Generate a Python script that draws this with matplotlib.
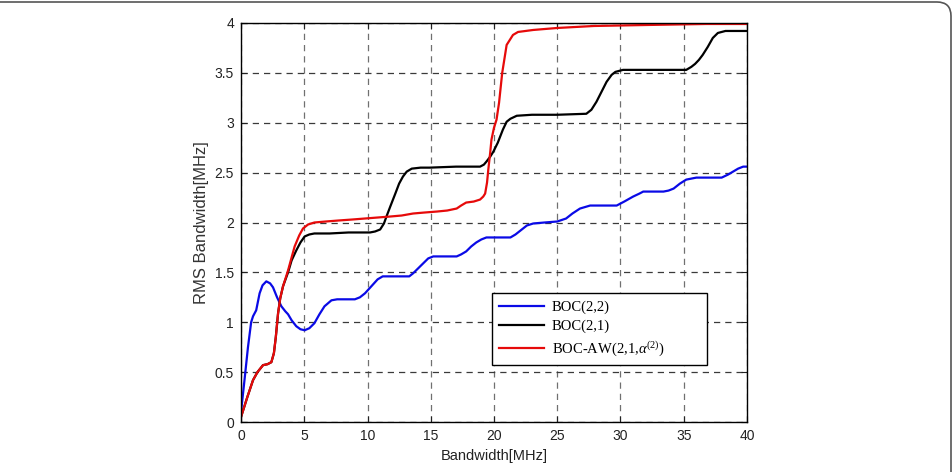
import matplotlib
matplotlib.use("Agg")
import matplotlib.pyplot as plt
from matplotlib.patches import FancyBboxPatch
from matplotlib.transforms import IdentityTransform

plt.rcParams['font.family'] = ['Liberation Sans', 'DejaVu Sans']
plt.rcParams['mathtext.fontset'] = 'custom'
plt.rcParams['mathtext.rm'] = 'Liberation Serif'
plt.rcParams['mathtext.it'] = 'Liberation Serif:italic'

# BOC(2,2)
x_boc22 = [0, 0.3, 0.55, 0.8, 0.95, 1.2, 1.47, 1.7, 2.0, 2.3, 2.53, 2.85, 3.19, 3.5, 3.72,
           4.0, 4.37, 4.7, 5.03, 5.4, 5.8, 6.2, 6.6, 7.15, 7.6, 8.3, 9.0, 9.4, 9.8, 10.3,
           10.8, 11.2, 12.0, 12.8, 13.3, 13.6, 14.0, 14.4, 14.8, 15.2, 16.2, 17.05, 17.4,
           17.8, 18.2, 18.6, 19.0, 19.4, 20.5, 21.3, 21.7, 22.1, 22.6, 23.1, 24.0, 25.0,
           25.7, 26.2, 26.8, 27.6, 28.5, 29.7, 30.3, 31.0, 31.5, 31.8, 33.4, 33.8, 34.2,
           34.7, 35.2, 36.0, 37.0, 38.0, 38.5, 38.9, 39.3, 39.7, 40]
y_boc22 = [0.1, 0.45, 0.75, 1.0, 1.06, 1.12, 1.29, 1.37, 1.41, 1.39, 1.35, 1.25, 1.16, 1.11, 1.08,
           1.02, 0.96, 0.93, 0.92, 0.94, 0.99, 1.08, 1.16, 1.22, 1.23, 1.23, 1.23, 1.25, 1.29, 1.36,
           1.43, 1.46, 1.46, 1.46, 1.46, 1.49, 1.54, 1.59, 1.64, 1.66, 1.66, 1.66, 1.68,
           1.71, 1.76, 1.80, 1.83, 1.85, 1.85, 1.85, 1.88, 1.92, 1.97, 1.99, 2.0, 2.01,
           2.04, 2.09, 2.14, 2.17, 2.17, 2.17, 2.21, 2.26, 2.29, 2.31, 2.31, 2.32, 2.34,
           2.39, 2.43, 2.45, 2.45, 2.45, 2.48, 2.51, 2.54, 2.56, 2.56]

# BOC(2,1)
x_boc21 = [0, 0.5, 0.95, 1.3, 1.74, 2.1, 2.4, 2.6, 2.75, 2.93, 3.1, 3.32, 3.72, 4.0, 4.37,
           4.7, 5.03, 5.4, 5.8, 7, 8.5, 10.2, 10.6, 11.0, 11.3, 11.5, 11.8, 12.2, 12.5, 12.8,
           13.1, 13.5, 14.2, 14.9, 17, 18.9, 19.2, 19.4, 19.7, 19.95, 20.3, 20.7, 21.0, 21.3,
           21.8, 23, 25, 27.3, 27.7, 28.1, 28.5, 28.9, 29.3, 29.6, 30.2, 32, 35.2, 35.6,
           35.9, 36.2, 36.5, 36.9, 37.3, 37.7, 38.3, 39, 40]
y_boc21 = [0.05, 0.25, 0.42, 0.5, 0.57, 0.58, 0.6, 0.69, 0.85, 1.09, 1.24, 1.36, 1.5, 1.62, 1.72,
           1.8, 1.86, 1.88, 1.89, 1.89, 1.9, 1.9, 1.91, 1.93, 1.99, 2.06, 2.16, 2.29, 2.39, 2.46,
           2.51, 2.54, 2.55, 2.55, 2.56, 2.56, 2.58, 2.61, 2.66, 2.71, 2.8, 2.93, 3.01, 3.04,
           3.07, 3.08, 3.08, 3.09, 3.13, 3.21, 3.31, 3.41, 3.48, 3.51, 3.53, 3.53, 3.53, 3.56,
           3.59, 3.63, 3.68, 3.76, 3.85, 3.9, 3.92, 3.92, 3.92]

# BOC-AW(2,1,alpha)
x_bocaw = [0, 0.5, 0.95, 1.3, 1.74, 2.1, 2.4, 2.6, 2.75, 2.93, 3.1, 3.32, 3.72, 4.0, 4.24,
           4.6, 4.9, 5.3, 5.8, 6.7, 7.7, 8.8, 9.8, 10.8, 11.8, 12.7, 13.6, 14.5, 15.5, 16.3,
           17.05, 17.4, 17.8, 18.4, 18.9, 19.15, 19.3, 19.45, 19.55, 19.7, 19.8, 20.0, 20.2,
           20.4, 20.65, 21.0, 21.5, 21.9, 23.1, 25, 27.9, 32.1, 36.8, 40]
y_bocaw = [0.05, 0.25, 0.42, 0.5, 0.57, 0.58, 0.6, 0.69, 0.85, 1.09, 1.24, 1.36, 1.52, 1.65, 1.76,
           1.87, 1.94, 1.98, 2.0, 2.01, 2.02, 2.03, 2.04, 2.05, 2.06, 2.07, 2.09, 2.1, 2.11, 2.12,
           2.14, 2.17, 2.2, 2.21, 2.23, 2.26, 2.29, 2.4, 2.53, 2.7, 2.83, 2.95, 3.03,
           3.2, 3.5, 3.78, 3.88, 3.91, 3.93, 3.95, 3.97, 3.98, 3.99, 3.99]

x_ticks = [0, 5, 10, 15, 20, 25, 30, 35, 40]
y_ticks = [0, 0.5, 1, 1.5, 2, 2.5, 3, 3.5, 4]

fig = plt.figure(figsize=(9.53, 4.72), dpi=100)
ax = fig.add_axes([0.2529, 0.1059, 0.5309, 0.8454])

ax.plot(x_boc22, y_boc22, color="#0a0ae6", linewidth=1.6, label="BOC(2,2)")
ax.plot(x_boc21, y_boc21, color="black", linewidth=1.6, label="BOC(2,1)")
ax.plot(x_bocaw, y_bocaw, color="#e60a0a", linewidth=1.6, label=r"BOC-AW(2,1,$\alpha^{(2)}$)")

ax.set_xlim(0, 40)
ax.set_ylim(0, 4)
ax.set_xticks(x_ticks)
ax.set_yticks(y_ticks)
ax.set_xticklabels([str(t) for t in x_ticks])
ax.set_yticklabels([f"{t:g}" for t in y_ticks])

# matlab style dashed grid
ax.xaxis.grid(True, linestyle=(0, (5, 4)), color="#707070", linewidth=0.9)
ax.yaxis.grid(True, linestyle=(0, (5, 4)), color="#3a3a3a", linewidth=0.9)
ax.tick_params(direction="in", top=True, right=True, length=4, width=0.8,
               labelsize=10, colors="#222222", pad=5)
for s in ax.spines.values():
    s.set_linewidth(1.0)

ax.set_xlabel("Bandwidth[MHz]", fontsize=10.5, color="#222222", labelpad=4)
ax.set_ylabel("RMS Bandwidth[MHz]", fontsize=12, color="#333333", labelpad=4)

leg = ax.legend(loc="upper left", bbox_to_anchor=(0.496, 0.143, 0.425, 0.18), mode="expand",
                borderaxespad=0, prop={"family": "Liberation Serif", "size": 10.5},
                handlelength=3.1, handletextpad=0.5, fancybox=False, edgecolor="black",
                framealpha=1, labelspacing=0.4, borderpad=0.5)
leg.get_frame().set_linewidth(1.0)

# outer rounded frame
frame = FancyBboxPatch((-30, -30), 981, 500, boxstyle="round,pad=0,rounding_size=14",
                       transform=IdentityTransform(), fill=False, edgecolor="#555555",
                       linewidth=1.2)
fig.add_artist(frame)

plt.savefig("out.png", dpi=100)
